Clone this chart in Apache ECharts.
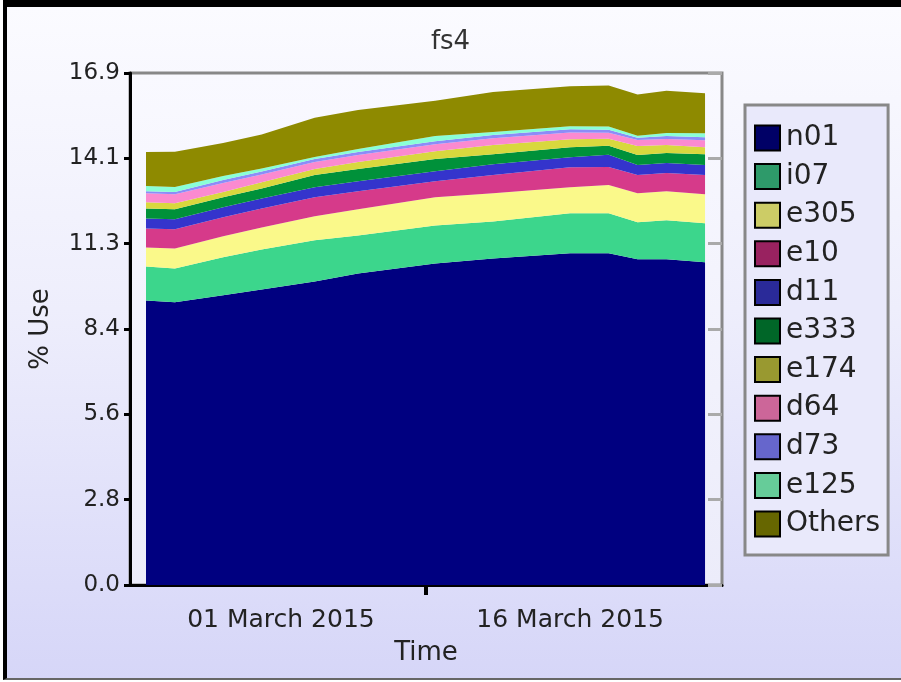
<!DOCTYPE html>
<html>
<head>
<meta charset="utf-8">
<script src="https://cdn.jsdelivr.net/npm/echarts@6/dist/echarts.min.js"></script>
<style>
  html, body { margin: 0; padding: 0; background: #ffffff; }
  #frame {
    position: absolute; left: 3px; top: 0; width: 898px; height: 680px;
    box-sizing: border-box;
    border-top: 7px solid #000; border-left: 4px solid #000; border-bottom: 2px solid #666;
    background: linear-gradient(to bottom, #fbfbff 0%, #eeeefc 45%, #d6d6f8 100%);
  }
  #chart { position: absolute; left: 0; top: 0; width: 901px; height: 682px; }
</style>
</head>
<body>
<div id="frame"></div>
<div id="chart"></div>
<script>
// ---- data ----
const dates = ['2015-02-22 00:00', '2015-02-23 12:00', '2015-02-26 00:00', '2015-02-28 00:00',
  '2015-03-02 18:00', '2015-03-05 00:00', '2015-03-09 00:00', '2015-03-12 00:00',
  '2015-03-16 00:00', '2015-03-18 00:00', '2015-03-19 12:00', '2015-03-21 00:00', '2015-03-23 00:00'];
const seriesNames = ['n01', 'i07', 'e305', 'e10', 'd11', 'e333', 'e174', 'd64', 'd73', 'e125', 'Others'];
const n01 = [9.39, 9.33, 9.56, 9.75, 10.02, 10.28, 10.61, 10.78, 10.95, 10.95, 10.75, 10.75, 10.65];
const i07 = [1.12, 1.12, 1.26, 1.32, 1.36, 1.26, 1.26, 1.22, 1.32, 1.32, 1.22, 1.29, 1.29];
const e305 = [0.63, 0.66, 0.69, 0.73, 0.79, 0.86, 0.93, 0.93, 0.86, 0.93, 0.96, 0.96, 0.96];
const e10 = [0.63, 0.63, 0.63, 0.63, 0.63, 0.60, 0.53, 0.60, 0.66, 0.60, 0.60, 0.60, 0.63];
const d11 = [0.33, 0.33, 0.33, 0.33, 0.33, 0.33, 0.33, 0.36, 0.33, 0.40, 0.33, 0.33, 0.33];
const e333 = [0.33, 0.33, 0.33, 0.33, 0.40, 0.40, 0.40, 0.33, 0.33, 0.30, 0.33, 0.33, 0.36];
const e174 = [0.20, 0.20, 0.17, 0.20, 0.20, 0.23, 0.26, 0.30, 0.26, 0.23, 0.30, 0.26, 0.23];
const d64 = [0.30, 0.30, 0.30, 0.26, 0.23, 0.23, 0.23, 0.23, 0.23, 0.20, 0.20, 0.20, 0.23];
const d73 = [0.07, 0.07, 0.10, 0.10, 0.10, 0.10, 0.10, 0.10, 0.10, 0.10, 0.07, 0.10, 0.10];
const e125 = [0.17, 0.17, 0.13, 0.10, 0.07, 0.10, 0.17, 0.10, 0.10, 0.10, 0.07, 0.10, 0.13];
const others = [1.12, 1.16, 1.09, 1.12, 1.29, 1.29, 1.16, 1.32, 1.32, 1.36, 1.36, 1.39, 1.32];
const yTickLabels = ['0.0', '2.8', '5.6', '8.4', '11.3', '14.1', '16.9'];
const xLabelDates = ['2015-03-01 00:00', '2015-03-16 00:00'];
const xLabelTexts = ['01 March 2015', '16 March 2015'];

// ---- styles ----
const values = [n01, i07, e305, e10, d11, e333, e174, d64, d73, e125, others];
const areaColors = ['#000080', '#3cd68c', '#faf98a', '#d63a8a', '#3434cc', '#00913a',
  '#d8d83e', '#fb8ad0', '#8c8cf8', '#8affd6', '#8e8a00'];
const legendColors = ['#000066', '#2e9a6a', '#cccc66', '#992260', '#2a2a99', '#006628',
  '#999930', '#cc6699', '#6666cc', '#66cc99', '#666600'];
const FONT = 'DejaVu Sans';
const yMax = 16.9, yStep = 16.9 / 6;
const t = s => new Date(s.replace(' ', 'T') + ':00Z').getTime();
const dayMs = 86400000;
const xMin = t(dates[0]) - 0.83 * dayMs;
const xMax = t(dates[dates.length - 1]) + 0.88 * dayMs;
const midTick = xMin + (xMax - xMin) / 2;
const xLabelVals = xLabelDates.map(t);

const chart = echarts.init(document.getElementById('chart'), null, { renderer: 'canvas' });
chart.setOption({
  backgroundColor: 'transparent',
  animation: false,
  title: {
    text: 'fs4', left: 'center', top: 24,
    textStyle: { fontFamily: FONT, fontSize: 26, fontWeight: 'normal', color: '#333' }
  },
  grid: {
    left: 130, right: 179, top: 73, bottom: 97,
    show: true, borderColor: '#888', borderWidth: 3,
    backgroundColor: new echarts.graphic.LinearGradient(0, 0, 0, 1, [
      { offset: 0, color: '#f9f9ff' }, { offset: 1, color: '#ececfa' }])
  },
  legend: {
    orient: 'vertical', left: 745, top: 105,
    padding: [19, 8, 17, 9],
    itemWidth: 25, itemHeight: 25, itemGap: 10.6,
    borderColor: '#888', borderWidth: 3,
    backgroundColor: '#e9e9fb',
    icon: 'rect',
    textStyle: { fontFamily: FONT, fontSize: 28, lineHeight: 25, color: '#222', padding: [0, 0, 0, 1] },
    data: seriesNames.map((n, i) => ({
      name: n,
      itemStyle: { color: legendColors[i], borderColor: '#000', borderWidth: 2 }
    }))
  },
  xAxis: {
    type: 'value', min: xMin, max: xMax,
    name: 'Time', nameLocation: 'middle', nameGap: 55,
    nameTextStyle: { fontFamily: FONT, fontSize: 26, color: '#222' },
    axisLine: { lineStyle: { color: '#000', width: 3 } },
    axisTick: { show: true, customValues: [midTick], length: 10, lineStyle: { color: '#000', width: 4 } },
    axisLabel: {
      customValues: xLabelVals,
      formatter: (v) => { const i = xLabelVals.indexOf(v); return i >= 0 ? xLabelTexts[i] : ''; },
      fontFamily: FONT, fontSize: 25, color: '#222', margin: 23
    },
    splitLine: { show: false }
  },
  yAxis: [{
    type: 'value', min: 0, max: yMax, interval: yStep,
    name: '% Use', nameLocation: 'middle', nameGap: 76, nameRotate: 90,
    nameTextStyle: { fontFamily: FONT, fontSize: 26, color: '#222' },
    axisLine: { show: true, lineStyle: { color: '#000', width: 3 } },
    axisTick: { show: true, length: 6, lineStyle: { color: '#000', width: 3 } },
    axisLabel: {
      formatter: (v) => yTickLabels[Math.round(v / yStep)],
      fontFamily: FONT, fontSize: 23, color: '#222', margin: 10
    },
    splitLine: { show: false }
  }, {
    type: 'value', min: 0, max: yMax, interval: yStep, position: 'right',
    axisLine: { show: false },
    axisTick: { show: true, inside: true, length: 14, lineStyle: { color: '#aaa', width: 3 } },
    axisLabel: { show: false },
    splitLine: { show: false }
  }],
  series: values.map((arr, i) => ({
    name: seriesNames[i], type: 'line', stack: 'total',
    yAxisIndex: 0,
    // column 0 = value (y), column 1 = time (x)
    data: dates.map((d, j) => [arr[j], t(d)]),
    encode: { x: 1, y: 0 },
    symbol: 'none', silent: true,
    lineStyle: { width: 0 },
    itemStyle: { color: areaColors[i] },
    areaStyle: { color: areaColors[i], opacity: 1 },
    z: 2
  }))
});
</script>
</body>
</html>
